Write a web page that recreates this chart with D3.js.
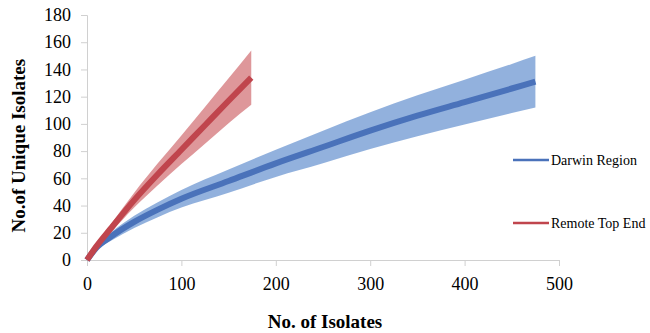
<!DOCTYPE html>
<html>
<head>
<meta charset="utf-8">
<script src="https://cdn.jsdelivr.net/npm/d3@7"></script>
<style>
  body { margin: 0; background: #fff; }
  .tick text { font-family: "Liberation Serif", serif; }
</style>
</head>
<body>
<div id="chart"></div>
<script>
// Chart data
const xTicks = [0, 100, 200, 300, 400, 500];
const yTicks = [0, 20, 40, 60, 80, 100, 120, 140, 160, 180];

// Darwin Region curve: isolates, mean, lower, upper
const darwinX = [0, 10, 25, 50, 75, 100, 150, 200, 250, 300, 350, 400, 450, 475];
const darwinMean = [0, 9, 17, 28, 37, 45, 58, 71, 83, 95, 106, 116, 126, 131];
const darwinLow = [0, 7.5, 14, 23.5, 31.5, 38.5, 49.5, 61, 71, 81.5, 91, 99.5, 108, 112];
const darwinHigh = [0, 10.5, 20, 32.5, 42.5, 51.5, 66.5, 81, 95, 108.5, 121, 132.5, 144, 150];

// Remote Top End curve
const remoteX = [0, 10, 25, 50, 75, 100, 125, 150, 174];
const remoteMean = [0, 10, 23, 44, 63, 81, 99, 117, 134];
const remoteLow = [0, 9, 20, 38.5, 55, 70.5, 85.5, 100.5, 114];
const remoteHigh = [0, 11, 26, 49.5, 71, 91.5, 112.5, 133.5, 154];

const seriesNames = ["Darwin Region", "Remote Top End"];
const lineColors = ["#4a72ba", "#c0454d"];
const bandColors = ["#86a8d9", "#da8c8f"];

const width = 650, height = 333;
const margin = { top: 15, right: 91, bottom: 73, left: 87 };
const w = width - margin.left - margin.right,
  h = height - margin.top - margin.bottom;

const serif = "Liberation Serif";

const svg = d3.select("#chart").append("svg")
  .attr("width", width)
  .attr("height", height)
  .attr("font-family", serif);

const g = svg.append("g")
  .attr("transform", "translate(" + margin.left + "," + margin.top + ")");

const x = d3.scaleLinear().domain([0, 500]).range([0, w]);
const y = d3.scaleLinear().domain([0, 180]).range([h, 0]);

// axes
const xAxis = g.append("g")
  .attr("transform", "translate(0," + h + ")")
  .call(d3.axisBottom(x).tickValues(xTicks).tickSize(6).tickPadding(11));
const yAxis = g.append("g")
  .call(d3.axisLeft(y).tickValues(yTicks).tickSize(6).tickPadding(10));

[xAxis, yAxis].forEach(a => {
  a.attr("font-family", serif).attr("font-size", 18);
  a.select(".domain").attr("stroke", "#d0d0d0");
  a.selectAll(".tick line").attr("stroke", "#d0d0d0");
  a.selectAll(".tick text")
    .attr("fill", "#000")
    .attr("font-family", serif);
});

// bands and lines
const seriesData = [
  { xs: darwinX, mean: darwinMean, low: darwinLow, high: darwinHigh },
  { xs: remoteX, mean: remoteMean, low: remoteLow, high: remoteHigh }
];

const area = d3.area()
  .x(d => x(d.x))
  .y0(d => y(d.low))
  .y1(d => y(d.high))
  .curve(d3.curveMonotoneX);

const line = d3.line()
  .x(d => x(d.x))
  .y(d => y(d.mean))
  .curve(d3.curveMonotoneX);

seriesData.forEach((s, i) => {
  const pts = s.xs.map((v, j) => ({ x: v, mean: s.mean[j], low: s.low[j], high: s.high[j] }));
  g.append("path")
    .datum(pts)
    .attr("d", area)
    .attr("fill", bandColors[i])
    .attr("fill-opacity", 0.9);
  g.append("path")
    .datum(pts)
    .attr("d", line)
    .attr("fill", "none")
    .attr("stroke", lineColors[i])
    .attr("stroke-width", 6);
});

// axis titles
svg.append("text")
  .attr("x", margin.left + x(250) + 2)
  .attr("y", 328)
  .attr("text-anchor", "middle")
  .attr("font-weight", "bold")
  .attr("font-size", 19)
  .text("No. of Isolates");

svg.append("text")
  .attr("transform", "translate(25," + (margin.top + y(84)) + ") rotate(-90)")
  .attr("text-anchor", "middle")
  .attr("font-weight", "bold")
  .attr("font-size", 19)
  .text("No.of Unique Isolates");

// legend
const legendY = [160, 223];
seriesNames.forEach((name, i) => {
  svg.append("line")
    .attr("x1", 513).attr("x2", 549)
    .attr("y1", legendY[i]).attr("y2", legendY[i])
    .attr("stroke", lineColors[i])
    .attr("stroke-width", 2.5);
  svg.append("text")
    .attr("x", 551)
    .attr("y", legendY[i] + 5)
    .attr("font-size", 14)
    .text(name);
});
</script>
</body>
</html>
